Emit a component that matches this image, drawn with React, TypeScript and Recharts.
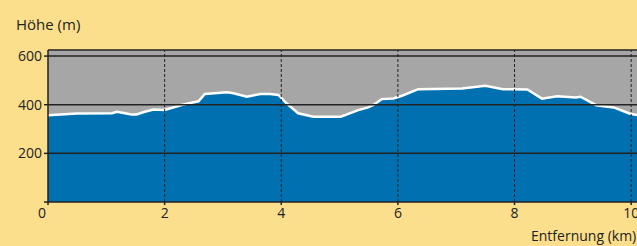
import React from 'react';
import { AreaChart, Area, XAxis, YAxis, CartesianGrid, ReferenceLine } from 'recharts';

// distance (km) and elevation (m) along the route
const distances = [
  0, 0.5, 1.1, 1.18, 1.32, 1.43, 1.52, 1.66, 1.81, 2.0, 2.29, 2.5, 2.58, 2.69, 3.07, 3.18, 3.41, 3.64,
  3.81, 3.95, 4.09, 4.29, 4.55, 5.02, 5.32, 5.49, 5.58, 5.72, 5.92, 6.07, 6.35, 7.1, 7.5, 7.8, 8.22,
  8.47, 8.73, 9.05, 9.13, 9.4, 9.7, 9.98, 10.1,
];
const elevations = [
  357, 364, 365, 371, 365, 360, 360, 371, 380, 378, 399, 410, 414, 444, 451, 447, 433, 444,
  444, 440, 406, 365, 351, 351, 378, 389, 399, 423, 426, 437, 464, 467, 478, 464, 463,
  425, 435, 430, 433, 398, 389, 363, 358,
];
const xTicks = [0, 2, 4, 6, 8, 10];
const yTicks = [0, 200, 400, 600];

const data = distances.map((km, i) => ({ km, h: elevations[i] }));

const INK = '#222';
const FONT = '"Open Sans", sans-serif';

const XTick = (props: any) => {
  const { x, y, payload } = props;
  const dx = payload.value === 0 ? -6 : 0;
  return (
    <text x={x + dx} y={y} dy={11} textAnchor="middle" fontSize={14} fill={INK} fontFamily={FONT}>
      {payload.value}
    </text>
  );
};

// the 0 on the height axis is shared with the distance axis, so it is not repeated
const YTick = (props: any) => {
  const { x, y, payload } = props;
  if (payload.value === 0) return <g />;
  return (
    <text x={x} y={y} dy={5} textAnchor="end" fontSize={14} fill={INK} fontFamily={FONT}>
      {payload.value}
    </text>
  );
};

const App: React.FC = () => {
  return (
    <div style={{ position: 'absolute', left: 0, top: 0, width: 637, height: 246, background: '#FCDF8D', overflow: 'hidden' }}>
      <div style={{ position: 'absolute', left: 16, top: 17, fontSize: 15, lineHeight: '15px', fontFamily: FONT, color: INK }}>
        Höhe (m)
      </div>
      <div style={{ position: 'absolute', left: 531, top: 229, fontSize: 14, lineHeight: '14px', fontFamily: FONT, color: INK, whiteSpace: 'nowrap' }}>
        Entfernung (km)
      </div>
      <AreaChart width={637} height={246} data={data} margin={{ top: 50, right: 0, bottom: 14, left: 0 }}>
        <CartesianGrid horizontal={false} vertical={false} fill="#A6A6A6" fillOpacity={1} stroke="none" />
        <XAxis
          dataKey="km"
          type="number"
          domain={[0, 10.1]}
          ticks={xTicks}
          interval={0}
          height={30}
          tickSize={3}
          tickMargin={2}
          stroke={INK}
          strokeWidth={1.5}
          tick={<XTick />}
        />
        <YAxis
          type="number"
          domain={[0, 625]}
          ticks={yTicks}
          interval={0}
          width={48}
          tickSize={4}
          tickMargin={2}
          stroke={INK}
          strokeWidth={1.5}
          tick={<YTick />}
        />
        <Area
          type="linear"
          dataKey="h"
          stroke="#fff"
          strokeWidth={2.5}
          fill="#0070B0"
          fillOpacity={1}
          isAnimationActive={false}
          dot={false}
          activeDot={false}
        />
        {[200, 400, 600].map((v) => (
          <ReferenceLine key={'h' + v} y={v} stroke={INK} strokeWidth={1.5} />
        ))}
        <ReferenceLine y={625} stroke={INK} strokeWidth={1.5} />
        {[2, 4, 6, 8, 10].map((v) => (
          <ReferenceLine key={'v' + v} x={v} stroke={INK} strokeWidth={1} strokeDasharray="3 2" />
        ))}
      </AreaChart>
    </div>
  );
};

export default App;
